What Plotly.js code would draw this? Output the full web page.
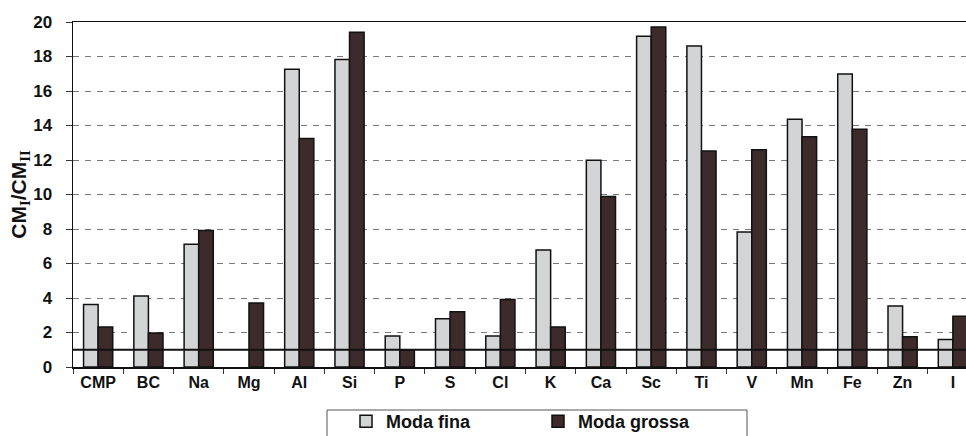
<!DOCTYPE html>
<html>
<head>
<meta charset="utf-8">
<script src="https://cdn.plot.ly/plotly-3.0.1.min.js"></script>
<style>
  html, body { margin: 0; padding: 0; overflow: hidden; background: #fff; }
  #chart { width: 978px; height: 436px; }
</style>
</head>
<body>
<div id="chart"></div>
<script>
// Element ratios CM_I / CM_II for the fine and coarse modes
const elements = ['CMP', 'BC', 'Na', 'Mg', 'Al', 'Si', 'P', 'S', 'Cl', 'K',
                  'Ca', 'Sc', 'Ti', 'V', 'Mn', 'Fe', 'Zn', 'I'];
const modaFina = [3.63, 4.12, 7.11, null, 17.26, 17.82, 1.80, 2.80, 1.80, 6.78,
                  11.98, 19.17, 18.61, 7.83, 14.36, 16.99, 3.54, 1.60];
const modaGrossa = [2.32, 1.97, 7.92, 3.71, 13.24, 19.40, 0.97, 3.21, 3.92, 2.32,
                    9.89, 19.71, 12.52, 12.60, 13.35, 13.78, 1.76, 2.94];
const yTicks = [0, 2, 4, 6, 8, 10, 12, 14, 16, 18, 20];
const referenceLevel = 1;

const font = 'Liberation Sans, Arial, sans-serif';
const serif = 'Liberation Serif, Times New Roman, serif';

const traces = [
  {
    type: 'bar', name: 'Moda fina', x: elements, y: modaFina,
    marker: { color: '#d2d4d6', line: { color: '#111', width: 1.5 } }
  },
  {
    type: 'bar', name: 'Moda grossa', x: elements, y: modaGrossa,
    marker: { color: '#3d2b2c', line: { color: '#111', width: 1.5 } }
  }
];

// pixel helpers for placing the legend frame below the plot area
const L = 73, T = 22, PW = 905, PH = 345;
const px = v => (v - L) / PW;
const py = v => (T + PH - v) / PH;

const layout = {
  width: 978, height: 436,
  margin: { l: L, r: 0, t: T, b: 436 - T - PH, autoexpand: false },
  paper_bgcolor: '#fff', plot_bgcolor: '#fff',
  font: { family: font, color: '#111' },
  barmode: 'group', bargap: 0.42, bargroupgap: 0,
  xaxis: {
    type: 'category', range: [-0.5, 17.5], autorange: false,
    showline: true, linecolor: '#111', linewidth: 1.5, mirror: true,
    ticks: 'outside', tickson: 'boundaries', ticklen: 5, tickcolor: '#333', tickwidth: 1,
    tickfont: { family: font, size: 16, color: '#111', weight: 'bold' },
    showgrid: false, zeroline: false, fixedrange: true, automargin: false
  },
  yaxis: {
    range: [0, 20], autorange: false,
    tickvals: yTicks, ticktext: yTicks.map(String),
    showline: true, linecolor: '#111', linewidth: 1.5,
    ticks: 'outside', ticklen: 6, tickcolor: '#333', tickwidth: 1,
    ticklabelstandoff: 10,
    tickfont: { family: font, size: 17, color: '#111', weight: 'bold' },
    showgrid: true, gridcolor: '#7a7a7a', gridwidth: 1, griddash: '6px,6px',
    zeroline: false, fixedrange: true, automargin: false,
    title: {
      text: 'CM<sub><span style="font-family:' + serif + '">I</span></sub>/CM<sub><span style="font-family:' + serif + '">II</span></sub>',
      font: { family: font, size: 21, color: '#111', weight: 'bold' },
      standoff: 0
    }
  },
  showlegend: true,
  legend: {
    orientation: 'h', x: px(346), y: py(403), xanchor: 'left', yanchor: 'top',
    entrywidth: 147, entrywidthmode: 'pixels',
    bgcolor: 'rgba(0,0,0,0)', borderwidth: 0,
    font: { family: font, size: 18, color: '#111', weight: 'bold' },
    traceorder: 'normal'
  },
  shapes: [
    {
      type: 'line', xref: 'paper', x0: 0, x1: 1, yref: 'y',
      y0: referenceLevel, y1: referenceLevel,
      line: { color: '#111', width: 2 }, layer: 'above'
    },
    {
      type: 'rect', xref: 'paper', yref: 'paper',
      x0: px(327), x1: px(747), y0: py(445), y1: py(410),
      line: { color: '#555', width: 1 }, fillcolor: 'rgba(0,0,0,0)', layer: 'above'
    }
  ]
};

Plotly.newPlot('chart', traces, layout, { displayModeBar: false, staticPlot: true });
</script>
</body>
</html>
